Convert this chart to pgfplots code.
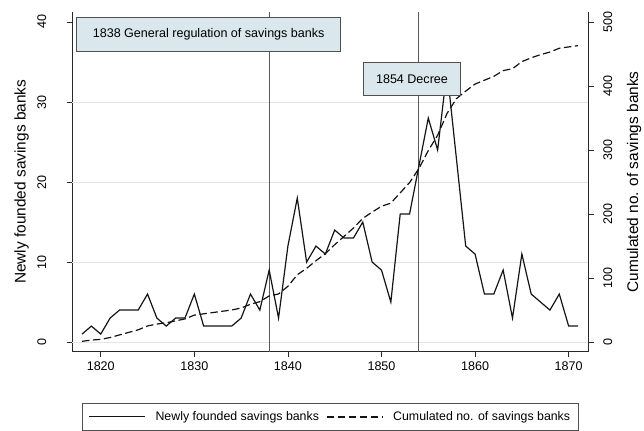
\documentclass[border=0pt]{standalone}
\usepackage{pgfplots}
\pgfplotsset{compat=1.18}
\usepackage{pgfplotstable}
\usepackage{fontspec}
\setmainfont{Liberation Sans}
\definecolor{boxfill}{RGB}{218,231,237}
\definecolor{boxdraw}{RGB}{80,80,80}
\definecolor{vline}{RGB}{90,90,90}
\definecolor{gridc}{RGB}{228,228,228}
\definecolor{linec}{RGB}{20,20,20}
\definecolor{axisc}{RGB}{40,40,40}

\pgfplotstableread{
year new cum
1818 1 1
1819 2 3
1820 1 4
1821 3 7
1822 4 11
1823 4 15
1824 4 19
1825 6 25
1826 3 28
1827 2 30
1828 3 33
1829 3 36
1830 6 42
1831 2 44
1832 2 46
1833 2 48
1834 2 50
1835 3 53
1836 6 59
1837 4 63
1838 9 72
1839 3 75
1840 12 87
1841 18 105
1842 10 115
1843 12 127
1844 11 138
1845 14 152
1846 13 165
1847 13 178
1848 15 193
1849 10 203
1850 9 212
1851 5 217
1852 16 233
1853 16 249
1854 22 271
1855 28 299
1856 24 323
1857 34 357
1858 23 380
1859 12 392
1860 11 403
1861 6 409
1862 6 415
1863 9 424
1864 3 427
1865 11 438
1866 6 444
1867 5 449
1868 4 453
1869 6 459
1870 2 461
1871 2 463
}\banks

\pgfplotsset{
  common/.style={
    at={(72.3bp,79.3bp)}, anchor=south west,
    scale only axis, width=516bp, height=339.7bp,
    xmin=1816.96, xmax=1872.1,
    tick align=outside, major tick length=5.5bp,
    every tick/.style={axisc, line width=0.8bp},
    axis line style={axisc, line width=0.8bp},
    tick label style={font=\fontsize{12.6}{14}\selectfont},
    /pgf/number format/assume math mode=true,
    /pgf/number format/1000 sep={},
    clip=false,
  }
}

\begin{document}
\begin{tikzpicture}
\useasboundingbox (0,0) rectangle (644bp,431bp);
\begin{axis}[common,
  ymin=-1.2, ymax=41.25,
  axis y line*=left, axis x line*=bottom,
  xtick={1820,1830,...,1870},
  ytick={0,10,20,30,40},
  extra y ticks={0,10,20,30},
  extra y tick labels={},
  extra y tick style={grid=major, major grid style={gridc, line width=0.9bp}, major tick length=0pt},
  yticklabel style={rotate=90, anchor=center, yshift=25bp},
  xticklabel style={anchor=north, yshift=-1bp},
  every axis y label/.style={at={(axis description cs:-0.098,0.5)}, rotate=90, anchor=center, font=\fontsize{15.5}{18}\selectfont},
  ylabel={Newly founded savings banks},
]
\draw[vline, line width=1.1bp] ({axis cs:1838,0}|-{rel axis cs:0,0}) -- ({axis cs:1838,0}|-{rel axis cs:0,1});
\draw[vline, line width=1.1bp] ({axis cs:1854,0}|-{rel axis cs:0,0}) -- ({axis cs:1854,0}|-{rel axis cs:0,1});
\addplot[linec, line width=1.2bp, line join=miter] table[x=year, y=new] {\banks};
\end{axis}
\begin{axis}[common,
  ymin=-15.2, ymax=515.6,
  axis y line*=right, axis x line=none,
  ytick={0,100,...,500},
  yticklabel style={rotate=90, anchor=center, yshift=-14bp},
  every axis y label/.style={at={(axis description cs:1.0886,0.5)}, rotate=90, anchor=center, font=\fontsize{15.5}{18}\selectfont},
  ylabel={Cumulated no. of savings banks},
  legend columns=2,
  legend style={at={(0.5,-0.152)}, anchor=north, draw=boxdraw, line width=0.8bp,
    font=\fontsize{12.4}{14}\selectfont, inner xsep=6bp, inner ysep=6bp,
    /tikz/every odd column/.append style={column sep=8bp},
    /tikz/every even column/.append style={column sep=5bp}},
  legend image code/.code={\draw[#1] (0bp,0bp) -- (56bp,0bp);},
]
\addlegendimage{linec, line width=1.1bp}
\addlegendentry{Newly founded savings banks}
\addplot[linec, line width=1.2bp, dash pattern=on 7.5bp off 3.5bp] table[x=year, y=cum] {\banks};
\addlegendentry{Cumulated no. of savings banks}
\node[draw=boxdraw, fill=boxfill, line width=0.9bp, minimum width=264bp, minimum height=33.3bp, inner sep=0pt,
  font=\fontsize{12.6}{14}\selectfont] at (rel axis cs:0.2643,0.9342) {1838 General regulation of savings banks};
\node[draw=boxdraw, fill=boxfill, line width=0.9bp, minimum width=97.4bp, minimum height=33.4bp, inner sep=0pt,
  font=\fontsize{12.6}{14}\selectfont] at (rel axis cs:0.6583,0.8028) {1854 Decree};
\end{axis}
\end{tikzpicture}
\end{document}
